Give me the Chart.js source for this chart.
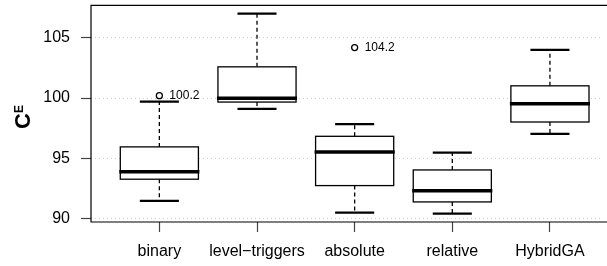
<!DOCTYPE html>
<html>
<head>
<meta charset="utf-8">
<script src="https://cdn.jsdelivr.net/npm/chart.js@4"></script>
<style>
  html, body { margin: 0; padding: 0; background: #fff; }
</style>
</head>
<body>
<canvas id="myChart" width="607" height="266"></canvas>
<script>
// box plot values
var categories = ["binary", "level\u2212triggers", "absolute", "relative", "HybridGA"];
var whiskerLow = [91.45, 99.11, 90.47, 90.39, 97.03];
var q1 = [93.25, 99.67, 92.72, 91.36, 98.01];
var medians = [93.88, 99.98, 95.51, 92.28, 99.53];
var q3 = [95.94, 102.6, 96.82, 94.02, 101.02];
var whiskerHigh = [99.7, 107.03, 97.84, 95.46, 104.01];
var outlierCat = [1, 3];
var outlierVal = [100.2, 104.2];
var yTicks = [90, 95, 100, 105];

var FONT = "'Liberation Sans', Arial, Helvetica, sans-serif";

var boxPlugin = {
  id: "boxes",
  beforeDatasetsDraw: function (chart) {
    var ctx = chart.ctx;
    var x = chart.scales.x;
    var y = chart.scales.y;
    ctx.save();
    ctx.strokeStyle = "#000";
    for (var i = 0; i < categories.length; i++) {
      var c = i + 1;
      var xl = x.getPixelForValue(c - 0.4);
      var xr = x.getPixelForValue(c + 0.4);
      var xc = x.getPixelForValue(c);
      var sl = x.getPixelForValue(c - 0.2);
      var sr = x.getPixelForValue(c + 0.2);
      // whiskers
      ctx.lineWidth = 1.3;
      ctx.setLineDash([4, 3]);
      ctx.beginPath();
      ctx.moveTo(xc, y.getPixelForValue(q3[i]));
      ctx.lineTo(xc, y.getPixelForValue(whiskerHigh[i]));
      ctx.moveTo(xc, y.getPixelForValue(q1[i]));
      ctx.lineTo(xc, y.getPixelForValue(whiskerLow[i]));
      ctx.stroke();
      ctx.setLineDash([]);
      // staples
      ctx.lineWidth = 2.2;
      ctx.beginPath();
      ctx.moveTo(sl, y.getPixelForValue(whiskerHigh[i]));
      ctx.lineTo(sr, y.getPixelForValue(whiskerHigh[i]));
      ctx.moveTo(sl, y.getPixelForValue(whiskerLow[i]));
      ctx.lineTo(sr, y.getPixelForValue(whiskerLow[i]));
      ctx.stroke();
      // box
      ctx.lineWidth = 1.3;
      ctx.fillStyle = "#fff";
      var yt = y.getPixelForValue(q3[i]);
      var yb = y.getPixelForValue(q1[i]);
      ctx.fillRect(xl, yt, xr - xl, yb - yt);
      ctx.strokeRect(xl, yt, xr - xl, yb - yt);
      // median
      ctx.lineWidth = 3.5;
      ctx.beginPath();
      ctx.moveTo(xl - 1, y.getPixelForValue(medians[i]));
      ctx.lineTo(xr + 1, y.getPixelForValue(medians[i]));
      ctx.stroke();
    }
    ctx.restore();
  },
  afterDatasetsDraw: function (chart) {
    var ctx = chart.ctx;
    var meta = chart.getDatasetMeta(0);
    ctx.save();
    ctx.fillStyle = "#000";
    ctx.font = "12px " + FONT;
    ctx.textBaseline = "middle";
    meta.data.forEach(function (pt, i) {
      ctx.fillText(outlierVal[i].toFixed(1), pt.x + 10, pt.y);
    });
    ctx.restore();
  },
  afterDraw: function (chart) {
    var ctx = chart.ctx;
    var a = chart.chartArea;
    ctx.save();
    // frame (right side is cut off in the picture)
    ctx.strokeStyle = "#000";
    ctx.lineWidth = 1.2;
    ctx.beginPath();
    ctx.moveTo(chart.width, a.top);
    ctx.lineTo(a.left, a.top);
    ctx.lineTo(a.left, a.bottom);
    ctx.lineTo(chart.width, a.bottom);
    ctx.stroke();
    // y title C with small E
    ctx.translate(30, 117);
    ctx.rotate(-Math.PI / 2);
    ctx.fillStyle = "#000";
    ctx.textBaseline = "alphabetic";
    ctx.font = "bold 22px " + FONT;
    var wC = ctx.measureText("C").width;
    ctx.font = "bold 12px " + FONT;
    var wE = ctx.measureText("E").width;
    var x0 = -(wC + wE) / 2;
    ctx.font = "bold 22px " + FONT;
    ctx.fillText("C", x0, 0);
    ctx.font = "bold 12px " + FONT;
    ctx.fillText("E", x0 + wC, -7.2);
    ctx.restore();
  }
};

var ctx = document.getElementById("myChart").getContext("2d");
var chart = new Chart(ctx, {
  type: "scatter",
  data: {
    datasets: [
      {
        label: "outliers",
        data: outlierCat.map(function (c, i) {
          return { x: c, y: outlierVal[i] };
        }),
        pointRadius: 3,
        pointBorderWidth: 1.3,
        pointBorderColor: "#000",
        pointBackgroundColor: "#fff",
      },
    ],
  },
  options: {
    responsive: false,
    animation: false,
    devicePixelRatio: 1,
    layout: { padding: { top: 5, left: 0, right: 0, bottom: 0 } },
    plugins: {
      legend: { display: false },
      tooltip: { enabled: false },
    },
    scales: {
      x: {
        type: "linear",
        min: 0.3,
        max: 5.53,
        afterBuildTicks: function (axis) {
          axis.ticks = categories.map(function (c, i) {
            return { value: i + 1 };
          });
        },
        afterFit: function (axis) {
          axis.height = 44;
          axis.paddingLeft = 0;
          axis.paddingRight = 0;
        },
        ticks: {
          autoSkip: false,
          maxRotation: 0,
          padding: 10,
          color: "#000",
          font: { family: FONT, size: 16 },
          callback: function (v) {
            return categories[v - 1];
          },
        },
        grid: {
          drawOnChartArea: false,
          tickLength: 10,
          tickColor: "#444",
          tickWidth: 1.2,
        },
        border: { display: false },
      },
      y: {
        min: 89.69,
        max: 107.72,
        afterBuildTicks: function (axis) {
          axis.ticks = yTicks.map(function (v) {
            return { value: v };
          });
        },
        afterFit: function (axis) {
          axis.width = 91;
          axis.paddingTop = 0;
          axis.paddingBottom = 0;
        },
        ticks: {
          padding: 11,
          color: "#000",
          font: { family: FONT, size: 16 },
        },
        grid: {
          color: "#cfcfcf",
          lineWidth: 1,
          tickLength: 10,
          tickColor: "#444",
          tickWidth: 1.2,
        },
        border: { display: false, dash: [1, 3] },
      },
    },
  },
  plugins: [boxPlugin],
});
</script>
</body>
</html>
